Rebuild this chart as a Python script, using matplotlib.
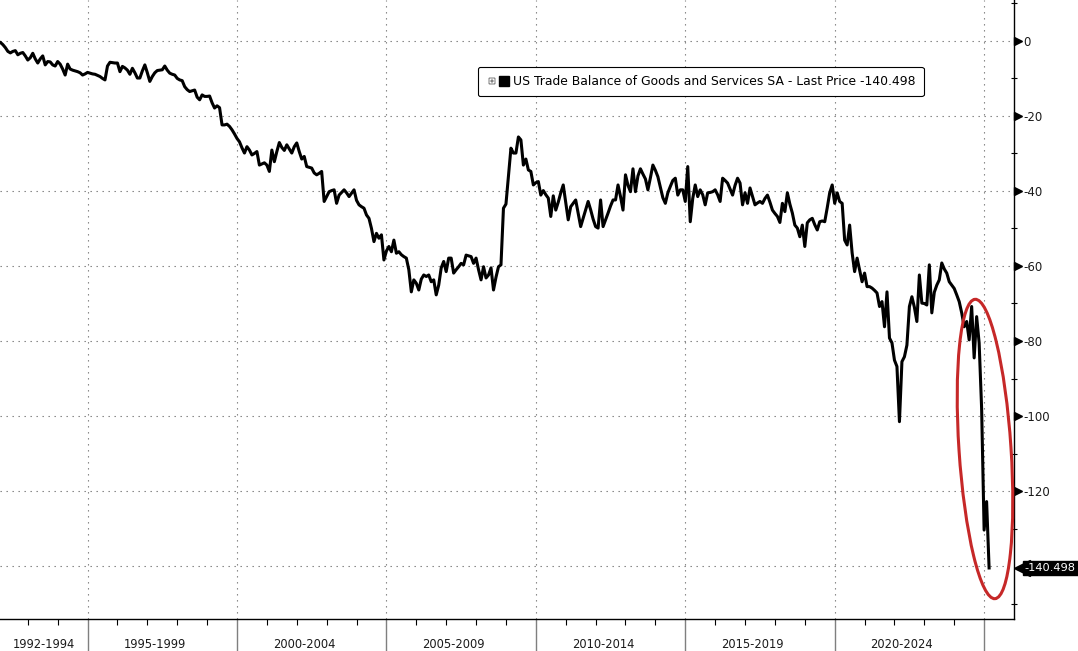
# US trade balance (goods & services, SA) - Bloomberg style line chart
import numpy as np
import matplotlib.pyplot as plt
from matplotlib.patches import Ellipse
from matplotlib.lines import Line2D
from matplotlib.legend_handler import HandlerTuple

plt.rcParams['font.family'] = 'DejaVu Sans'

# Monthly values, USD bn (Jan..Dec)
y1992 = [-0.2, -0.4, -1.0, -1.8, -2.8, -3.2, -2.8, -2.6, -3.7, -3.3, -3.1, -4.0]
y1993 = [-5.1, -4.5, -3.3, -4.8, -5.9, -4.8, -4.0, -6.4, -5.5, -5.6, -6.4, -6.7]
y1994 = [-5.5, -6.2, -7.5, -9.1, -6.2, -7.5, -7.8, -8.0, -8.2, -8.5, -9.1, -8.8]
y1995 = [-8.4, -8.6, -8.8, -8.9, -9.2, -9.5, -10.0, -10.4, -6.7, -5.7, -5.8, -5.9]
y1996 = [-5.9, -8.2, -6.8, -7.2, -7.8, -8.9, -7.3, -8.5, -9.9, -9.9, -8.0, -6.4]
y1997 = [-8.5, -10.8, -9.5, -8.5, -7.9, -7.8, -7.7, -6.7, -7.8, -8.6, -8.9, -9.1]
y1998 = [-10.0, -10.4, -10.6, -12.2, -13.0, -13.5, -13.3, -13.1, -15.0, -15.7, -14.4, -14.8]
y1999 = [-14.8, -14.7, -16.5, -17.9, -17.3, -17.8, -22.4, -22.4, -22.2, -22.8, -23.7, -24.8]
y2000 = [-26.0, -26.9, -28.5, -29.9, -28.2, -29.1, -30.4, -30.0, -29.5, -33.1, -32.8, -32.5]
y2001 = [-33.1, -34.8, -29.1, -32.2, -29.5, -27.1, -28.4, -29.2, -27.7, -28.8, -29.9, -28.2]
y2002 = [-27.2, -29.5, -31.5, -30.8, -33.5, -33.7, -33.9, -35.2, -35.7, -35.3, -34.8, -42.8]
y2003 = [-41.5, -40.2, -39.9, -39.7, -43.3, -41.1, -40.4, -39.7, -40.5, -41.5, -40.6, -39.7]
y2004 = [-42.5, -43.7, -44.2, -44.6, -46.4, -47.3, -50.0, -53.5, -51.3, -52.6, -51.7, -58.4]
y2005 = [-56.0, -54.8, -56.2, -53.1, -56.6, -56.2, -57.0, -57.5, -57.9, -61.0, -66.9, -63.7]
y2006 = [-64.6, -66.4, -63.5, -62.4, -62.8, -62.4, -64.2, -63.7, -67.7, -65.1, -60.5, -58.8]
y2007 = [-61.5, -57.9, -57.9, -61.9, -61.0, -60.2, -59.3, -59.7, -57.1, -57.3, -57.5, -59.3]
y2008 = [-57.9, -61.0, -63.7, -60.2, -63.2, -62.4, -60.5, -66.4, -63.0, -60.2, -59.7, -44.6]
y2009 = [-43.5, -36.0, -28.6, -29.9, -29.9, -25.6, -26.4, -33.1, -31.5, -34.4, -34.8, -38.4]
y2010 = [-37.8, -37.5, -41.1, -39.9, -41.0, -41.9, -46.8, -41.3, -45.1, -43.0, -40.5, -38.4]
y2011 = [-43.0, -47.7, -44.2, -43.3, -42.4, -46.0, -49.5, -47.3, -45.0, -42.8, -45.0, -47.5]
y2012 = [-49.5, -49.9, -42.4, -49.5, -47.7, -45.9, -44.0, -42.4, -42.4, -38.4, -41.5, -45.1]
y2013 = [-35.7, -38.5, -40.2, -34.1, -40.2, -36.0, -34.1, -35.5, -36.8, -39.7, -36.5, -33.1]
y2014 = [-34.5, -36.2, -39.0, -41.8, -43.3, -40.5, -38.8, -37.2, -36.6, -41.1, -39.7, -39.7]
y2015 = [-42.8, -33.5, -48.2, -42.0, -38.4, -41.5, -39.7, -41.0, -43.7, -40.5, -40.4, -40.2]
y2016 = [-39.7, -41.0, -42.8, -36.6, -37.2, -37.9, -39.5, -41.1, -38.5, -36.6, -37.9, -43.7]
y2017 = [-40.5, -43.3, -39.2, -41.5, -43.7, -43.2, -42.8, -43.3, -42.0, -41.1, -43.0, -45.1]
y2018 = [-46.0, -46.8, -48.4, -43.3, -45.5, -40.5, -43.5, -45.9, -49.1, -49.9, -52.2, -49.1]
y2019 = [-54.8, -48.5, -47.7, -47.3, -49.0, -50.4, -48.2, -48.0, -48.2, -44.5, -40.5, -38.4]
y2020 = [-43.3, -40.5, -42.8, -43.3, -53.1, -54.4, -49.1, -56.5, -61.5, -57.9, -61.1, -64.2]
y2021 = [-61.9, -65.5, -65.5, -65.9, -66.5, -67.2, -70.8, -69.5, -76.2, -66.9, -79.2, -80.5]
y2022 = [-85.1, -86.8, -101.5, -85.5, -84.2, -81.1, -70.8, -68.2, -71.0, -74.8, -62.4, -69.9]
y2023 = [-70.0, -70.4, -59.7, -72.5, -67.0, -65.1, -63.7, -59.2, -60.8, -61.9, -64.2, -65.1]
y2024 = [-66.0, -67.7, -69.5, -72.5, -76.2, -74.8, -79.7, -70.8, -84.5, -73.5, -80.5, -98.0]
y2025 = [-130.4, -122.8, -140.498]

balance = (y1992 + y1993 + y1994 + y1995 + y1996 + y1997 + y1998 + y1999 +
           y2000 + y2001 + y2002 + y2003 + y2004 + y2005 + y2006 + y2007 +
           y2008 + y2009 + y2010 + y2011 + y2012 + y2013 + y2014 + y2015 +
           y2016 + y2017 + y2018 + y2019 + y2020 + y2021 + y2022 + y2023 +
           y2024 + y2025)
months = 1992 + np.arange(len(balance)) / 12
last_price = balance[-1]

periods = ['1992-1994', '1995-1999', '2000-2004', '2005-2009',
           '2010-2014', '2015-2019', '2020-2024']
period_starts = [1992, 1995, 2000, 2005, 2010, 2015, 2020]

ytick_vals = [0, -20, -40, -60, -80, -100, -120, -140]
ytick_labels = ['0', '-20', '-40', '-60', '-80', '-100', '-120', '']

legend_label = 'US Trade Balance of Goods and Services SA - Last Price ' + f'{last_price:.3f}'

# ------------------- FIGURE -------------------
fig = plt.figure(figsize=(10.78, 6.51), dpi=100)
ax = fig.add_axes([0, 32 / 651, 1014 / 1078, 619 / 651])

ax.plot(months, balance, color='black', lw=2.2, zorder=3)

ax.set_xlim(1992.07, 2026.0)
ax.set_ylim(-154.1, 10.9)

# Spines
for side in ['left', 'top']:
    ax.spines[side].set_visible(False)
for side in ['right', 'bottom']:
    ax.spines[side].set_color('black')
    ax.spines[side].set_linewidth(1)

# Y axis on the right
ax.yaxis.tick_right()
ax.set_yticks(ytick_vals)
ax.set_yticklabels(ytick_labels)
ax.set_yticks(np.arange(10, -151, -20), minor=True)
ax.tick_params(axis='y', which='major', length=0, pad=6.5, labelsize=8.5, labelcolor='#1a1a1a')
ax.tick_params(axis='y', which='minor', length=5, direction='inout', width=0.8, color='black')

# triangle tick marks
ax.plot(np.full(len(ytick_vals) - 1, 1.0035), ytick_vals[:-1], ls='none', marker='>',
        ms=5.5, color='black', transform=ax.get_yaxis_transform(), clip_on=False)

# X axis
ax.set_xticks(range(1995, 2026, 5))
ax.set_xticklabels([])
ax.set_xticks(range(1993, 2026), minor=True)
ax.tick_params(axis='x', which='major', length=0)
ax.tick_params(axis='x', which='minor', length=4, direction='out', width=0.8, color='black')

# Dotted grid
ax.grid(which='major', axis='both', color='#777777', lw=0.8, ls=(0, (1.2, 4.2)))

# Period dividers and labels below the axis
ax.vlines(range(1995, 2026, 5), -32 / 619, 0, transform=ax.get_xaxis_transform(),
          colors='#7f7f7f', lw=1, clip_on=False)
for start, label in zip(period_starts, periods):
    xpos = start + (1.55 if start == 1992 else 2.25)
    ax.text(xpos, -26 / 619, label, transform=ax.get_xaxis_transform(),
            ha='center', va='center', fontsize=8.3, color='#1a1a1a')

# Legend
box_icon = Line2D([], [], ls='none', marker=r'$\boxplus$', ms=5, color='#666666', mew=0.3)
black_sq = Line2D([], [], ls='none', marker='s', ms=7.5, color='black')
leg = ax.legend([(box_icon, black_sq)], [legend_label],
                handler_map={tuple: HandlerTuple(ndivide=2, pad=0)},
                loc='upper left', bbox_to_anchor=(478 / 1014, 1 - 67 / 619),
                borderaxespad=0, fontsize=8.9, borderpad=0.65, handlelength=1.9,
                handletextpad=0.3, fancybox=True, framealpha=1, edgecolor='black')
leg.get_frame().set_linewidth(0.8)

# Last price tag
ax.plot([1.0079], [last_price], marker='<', ms=11, color='black',
        transform=ax.get_yaxis_transform(), clip_on=False)
ax.text(1.0105, last_price, f'{last_price:.3f}', transform=ax.get_yaxis_transform(),
        ha='left', va='center', color='white', fontsize=8.2,
        bbox=dict(boxstyle='square,pad=0.18', fc='black', ec='black'))

# Red ring around the latest plunge
ring = Ellipse((9.85, 2.02), width=0.52, height=3.0, angle=3.8,
               transform=fig.dpi_scale_trans, fill=False, ec='#c62828', lw=2.2, zorder=5)
fig.add_artist(ring)

fig.savefig('out.png', dpi=100)
